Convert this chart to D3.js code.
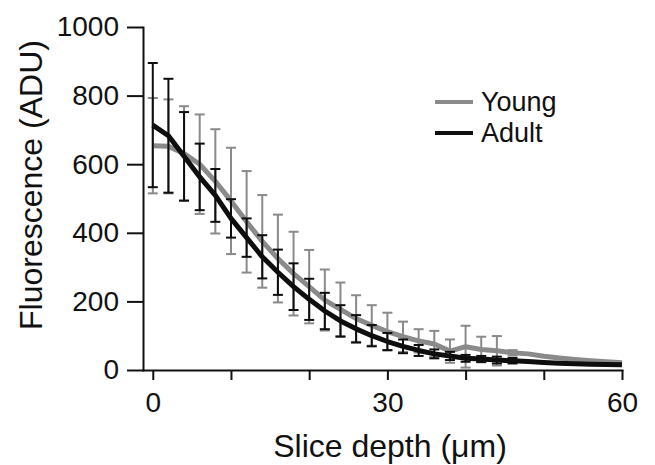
<!DOCTYPE html>
<html>
<head>
<meta charset="utf-8">
<script src="https://cdn.jsdelivr.net/npm/d3@7"></script>
<style>
  body { margin: 0; background: #fff; }
  text { font-family: "Liberation Sans", Arial, sans-serif; fill: #111; }
</style>
</head>
<body>
<div id="chart"></div>
<script>
"use strict";

// slice depth (um) of each measurement
const depth = [0, 2, 4, 6, 8, 10, 12, 14, 16, 18, 20, 22, 24, 26, 28, 30,
    32, 34, 36, 38, 40, 42, 44, 46, 48, 50, 52, 54, 56, 58, 60];

// mean fluorescence (ADU)
const youngMean = [654, 652, 631, 600, 550, 493, 432, 375, 325, 281, 243, 204, 177, 150, 130, 112,
    97, 85, 76, 55, 68, 60, 56, 50, 47, 40, 35, 31, 27, 24, 21];
const adultMean = [714, 683, 623, 563, 509, 442, 386, 330, 285, 243, 206, 172, 143, 120, 100, 83,
    69, 57, 47, 41, 34, 32, 29, 27, 25, 22, 20, 18, 17, 16, 15];

// error bars (only drawn for the first 24 depths)
const youngErr = [139, 137, 138, 145, 152, 155, 148, 135, 128, 122, 107, 89, 78, 68, 59, 55,
    44, 34, 38, 34, 61, 37, 43, 8];
const adultErr = [181, 166, 129, 97, 77, 56, 56, 63, 66, 68, 60, 53, 46, 40, 31, 25,
    20, 16, 13, 12, 10, 9, 10, 8];

const yTicks = [0, 200, 400, 600, 800, 1000];
const xTicks = [0, 10, 20, 30, 40, 50, 60];
const xLabels = [0, 30, 60];

const msm = {
    width: 655,
    height: 465,
    left: 143,
    right: 622,
    top: 27,
    bottom: 370
}

const colors = {
    young: "#8a8a8a",
    adult: "#0e0e0e"
}

let svg = d3.select("#chart").append("svg")
    .attr("width", msm.width)
    .attr("height", msm.height);

let xScale = d3.scaleLinear()
    .domain([-1.25, 60])
    .range([msm.left, msm.right]);

let yScale = d3.scaleLinear()
    .domain([0, 1000])
    .range([msm.bottom, msm.top]);

// axes
let yAxis = d3.axisLeft(yScale)
    .tickValues(yTicks)
    .tickSize(16)
    .tickSizeOuter(0)
    .tickPadding(8)
    .tickFormat(d3.format("d"));
let gy = svg.append("g")
    .attr("transform", "translate(" + msm.left + ",0)")
    .call(yAxis);

let xAxis = d3.axisBottom(xScale)
    .tickValues(xTicks)
    .tickSize(10)
    .tickSizeOuter(0)
    .tickPadding(12)
    .tickFormat(d => xLabels.includes(d) ? d : "");
let gx = svg.append("g")
    .attr("transform", "translate(0," + msm.bottom + ")")
    .call(xAxis);

[gx, gy].forEach(g => {
    g.selectAll("path, line").attr("stroke", "#111").attr("stroke-width", 2);
    g.selectAll("text").style("font-size", "28px").attr("fill", "#111");
    g.select(".domain").attr("stroke-linecap", "square");
});

// draw one series: error bars first, line on top
function drawSeries(means, errs, color) {
    let pts = depth.map((d, i) => ({ x: d, y: means[i], e: errs[i] }));
    let withErr = pts.filter(p => p.e !== undefined);
    let capW = 5;

    let bars = svg.append("g")
        .attr("stroke", color)
        .attr("stroke-width", 2);

    bars.selectAll(".stem")
        .data(withErr)
        .enter().append("line")
        .attr("x1", d => xScale(d.x))
        .attr("x2", d => xScale(d.x))
        .attr("y1", d => yScale(d.y + d.e))
        .attr("y2", d => yScale(Math.max(0, d.y - d.e)));

    bars.selectAll(".capTop")
        .data(withErr)
        .enter().append("line")
        .attr("x1", d => xScale(d.x) - capW)
        .attr("x2", d => xScale(d.x) + capW)
        .attr("y1", d => yScale(d.y + d.e))
        .attr("y2", d => yScale(d.y + d.e));

    bars.selectAll(".capBot")
        .data(withErr)
        .enter().append("line")
        .attr("x1", d => xScale(d.x) - capW)
        .attr("x2", d => xScale(d.x) + capW)
        .attr("y1", d => yScale(Math.max(0, d.y - d.e)))
        .attr("y2", d => yScale(Math.max(0, d.y - d.e)));

    let line = d3.line()
        .x(d => xScale(d.x))
        .y(d => yScale(d.y));

    svg.append("path")
        .datum(pts)
        .attr("d", line)
        .attr("fill", "none")
        .attr("stroke", color)
        .attr("stroke-width", 5)
        .attr("stroke-linejoin", "round");
}

drawSeries(youngMean, youngErr, colors.young);
drawSeries(adultMean, adultErr, colors.adult);

// axis titles
svg.append("text")
    .attr("x", 390)
    .attr("y", 457)
    .attr("text-anchor", "middle")
    .style("font-size", "32px")
    .text("Slice depth (μm)");

svg.append("text")
    .attr("transform", "translate(42,185) rotate(-90)")
    .attr("text-anchor", "middle")
    .style("font-size", "32px")
    .text("Fluorescence (ADU)");

// legend
const legendItems = [
    { name: "Young", color: colors.young },
    { name: "Adult", color: colors.adult }
];

let legend = svg.selectAll(".legend")
    .data(legendItems)
    .enter().append("g")
    .attr("class", "legend")
    .attr("transform", (d, i) => "translate(435," + (102 + i * 31) + ")");

legend.append("line")
    .attr("x1", 0)
    .attr("x2", 38)
    .attr("stroke", d => d.color)
    .attr("stroke-width", 4);

legend.append("text")
    .attr("x", 46)
    .attr("y", 9)
    .style("font-size", "27px")
    .text(d => d.name);
</script>
</body>
</html>
